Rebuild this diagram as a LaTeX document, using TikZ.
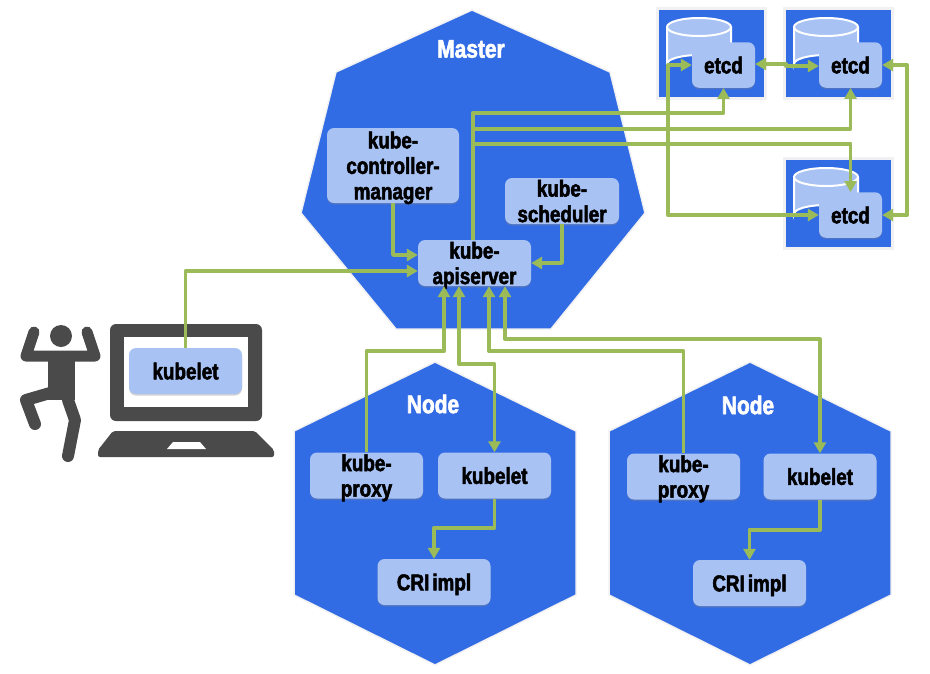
\documentclass[tikz,border=0pt]{standalone}
\usepackage{fontspec}
\usepackage{tikz}
\usetikzlibrary{positioning, arrows.meta, shadows}
\setmainfont{Liberation Sans}[FakeStretch=0.82, FakeBold=2.2]
\definecolor{kubeblue}{HTML}{326CE5}
\definecolor{compblue}{HTML}{A8C2F4}
\definecolor{linkgreen}{HTML}{9BBB59}
\definecolor{paleedge}{HTML}{F1F1F3}
\definecolor{darkgrey}{HTML}{4A4A4A}
\tikzset{
comp/.style={shape=rectangle, rounded corners=7pt, fill=compblue, minimum height=46pt, inner sep=0, align=center, text depth=0pt, font=\fontsize{23}{25.5}\selectfont\bfseries, drop shadow={shadow xshift=0pt, shadow yshift=-1.5pt, opacity=0.35}},
title/.style={text=white, inner sep=0, font=\fontsize{25.5}{28}\selectfont\bfseries},
cluster/.style={fill=kubeblue, draw=paleedge, line width=1.5pt, line join=miter},
cylinder/.style={fill=compblue, draw=white, line width=2pt},
link/.style={draw=linkgreen, line width=3.8pt, line join=round, >={Triangle[length=11pt, width=12pt]}}}
\begin{document}
\begin{tikzpicture}[x=1pt, y=-1pt]
\useasboundingbox (0,0) rectangle (930,673);
% master
\draw [cluster] (472,10) -- (610,72) -- (645,213) -- (551,329) -- (396,329) -- (301,213) -- (336,72) -- cycle;
\node [title] at (471,49) (master) {Master};
\node [comp, minimum width=132pt, minimum height=75pt] at (393,165.5) (controller) {kube-\\controller-\\manager};
\node [comp, minimum width=114pt] at (562,201) (scheduler) {kube-\\scheduler};
\node [comp, minimum width=113pt] at (474.5,263) (apiserver) {kube-\\apiserver};

% etcd squares
\foreach \n/\sx/\sy in {1/659/10, 2/786/10, 3/786/160}{
      \fill [paleedge] (\sx-3,\sy-3) rectangle ++(111,93);
      \fill [kubeblue] (\sx,\sy) rectangle ++(105,87);
      \draw [cylinder] (\sx+8,\sy+17) -- ++(0,37) arc [start angle=180, end angle=360, x radius=32, y radius=9] -- ++(0,-37);
      \draw [cylinder] (\sx+40,\sy+17) ellipse [x radius=32, y radius=9];
      \node [comp, minimum width=63pt, minimum height=45.5pt] at (\sx+64.5,\sy+55) (etcd-\n) {etcd};
}

% worker nodes
\foreach \n/\hx/\hy/\px/\kx/\cx in {1/435/404/366.5/494.5/434, 2/750/405/683.5/820/749.5}{
      \draw [cluster] (\hx,362) -- (\hx+141,431) -- (\hx+141,595) -- (\hx,665) -- (\hx-141,595) -- (\hx-141,431) -- cycle;
      \node [title] at (\hx-2,\hy) (node-\n) {Node};
      \node [comp, minimum width=113pt] at (\px,\hy+71.5) (proxy-\n) {kube-\\proxy};
      \node [comp, minimum width=113pt] at (\kx,\hy+71.5) (kubelet-\n) {kubelet};
      \node [comp, minimum width=113pt] at (\cx,\hy+178) (cri-\n) {CRI\hspace{3pt}impl};
}

% person
\fill [darkgrey] (61,336) circle (11);
\draw [darkgrey, line width=11pt, line cap=round, line join=round] (34,332) -- (26,356) -- (95,356) -- (87,332);
\fill [darkgrey] (48,356) rectangle (75,400);
\draw [darkgrey, line width=12pt, line cap=round, line join=round] (50,393) -- (26,400) -- (35,424);
\draw [darkgrey, line width=12pt, line cap=round, line join=round] (68,400) -- (75,420) -- (68,456);

% laptop
\fill [darkgrey, rounded corners=6pt] (110,324) rectangle (262,421);
\fill [white] (124,337) rectangle (248,407);
\fill [darkgrey, rounded corners=2pt] (98,457) -- (98,450) -- (113,431) -- (255,431) -- (274,450) -- (274,457) -- cycle;
\fill [white] (167,449) -- (173,442) -- (200,442) -- (206,449) -- cycle;
\node [comp, minimum width=113pt] at (185.5,371) (kubelet-0) {kubelet};

% connectors
\draw [link, ->] (controller.south) |- ([yshift=8pt]apiserver.west);
\draw [link, ->] (scheduler.south) |- (apiserver.east);
\draw [link, ->] (kubelet-0.north) |- ([yshift=-8pt]apiserver.west);
\draw [link, ->] ([xshift=-1.5pt]apiserver.north) -- ++(0,-127) -| (etcd-1.south);
\draw [link, ->] ([xshift=-1.5pt]apiserver.north) -- ++(0,-111) -| (etcd-2.south);
\draw [link, ->] ([xshift=-1.5pt]apiserver.north) -- ++(0,-96) -| (etcd-3.north);
\draw [link, <->] ([yshift=1pt]etcd-1.east) -- ++(31,0) |- ([yshift=-1pt]etcd-2.west);
\draw [link, <->] (etcd-2.east) -- ++(25,0) |- (etcd-3.east);
\draw [link, <->] (etcd-1.west) -- ++(-24,0) |- (etcd-3.west);
\draw [link, ->] (proxy-1.north) -- ++(0,-101) -| ([xshift=-30.5pt]apiserver.south);
\draw [link, <->] (kubelet-1.north) -- ++(0,-88) -| ([xshift=-15.5pt]apiserver.south);
\draw [link, ->] (proxy-2.north) -- ++(0,-102) -| ([xshift=14.5pt]apiserver.south);
\draw [link, <->] (kubelet-2.north) -- ++(0,-114) -| ([xshift=30.5pt]apiserver.south);
\draw [link, ->] (kubelet-1.south) -- ++(0,29) -| (cri-1.north);
\draw [link, ->] (kubelet-2.south) -- ++(0,30) -| (cri-2.north);
\end{tikzpicture}
\end{document}
